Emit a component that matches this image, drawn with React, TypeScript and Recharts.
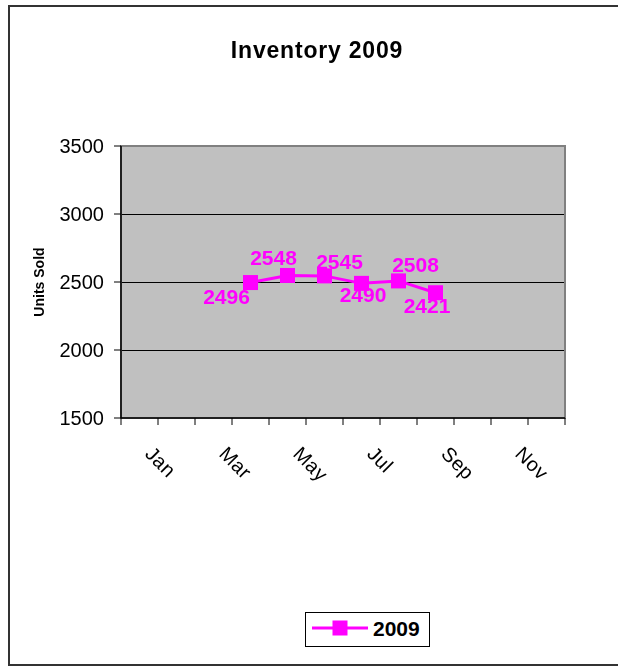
import React from 'react';
import {
  LineChart,
  Line,
  XAxis,
  YAxis,
  CartesianGrid,
  ReferenceArea,
  LabelList,
  Customized,
} from 'recharts';

// ---- data ----
const MONTHS = ['Jan', 'Feb', 'Mar', 'Apr', 'May', 'Jun', 'Jul', 'Aug', 'Sep', 'Oct', 'Nov', 'Dec'];
const UNITS_2009: (number | null)[] = [null, null, null, 2496, 2548, 2545, 2490, 2508, 2421, null, null, null];
const Y_TICKS = [1500, 2000, 2500, 3000, 3500];
const SERIES_NAME = '2009';
const TITLE = 'Inventory 2009';
const Y_TITLE = 'Units Sold';

// ---- label placement (style, per month) ----
const LABEL_OFFSETS: Record<string, [number, number]> = {
  Apr: [-24, 13.5],
  May: [-14, -18],
  Jun: [15, -14.5],
  Jul: [1.5, 11.5],
  Aug: [17, -16],
  Sep: [-8.5, 13],
};

const MAGENTA = '#FF00FF';
const FONT = 'Arial, "Liberation Sans", Helvetica, sans-serif';

const data = MONTHS.map((m, i) => ({ month: m, units: UNITS_2009[i] }));

const XTick = (props: any) => {
  const { x, y, payload, index, width } = props;
  const half =
    payload && typeof payload.offset === 'number' && payload.offset > 0
      ? payload.offset
      : (width || 444) / MONTHS.length / 2;
  const isLast = index === MONTHS.length - 1;
  const showLabel = index % 2 === 0;
  const lx = x + 4.5;
  const ly = y + 37;
  return (
    <g>
      <line x1={x - half} x2={x - half} y1={y} y2={y + 7} stroke="#000" strokeWidth={1} />
      {isLast && <line x1={x + half} x2={x + half} y1={y} y2={y + 7} stroke="#000" strokeWidth={1} />}
      {showLabel && (
        <text
          x={lx}
          y={ly}
          transform={`rotate(45, ${lx}, ${ly})`}
          textAnchor="start"
          fontSize={20}
          letterSpacing={0.4}
          fill="#000"
        >
          {payload.value}
        </text>
      )}
    </g>
  );
};

const SquareDot = (props: any) => {
  const { cx, cy, index } = props;
  if (cx == null || cy == null || props.value == null) return <g key={`d${index}`} />;
  return <rect key={`d${index}`} x={cx - 7.5} y={cy - 7.5} width={15} height={15} fill={MAGENTA} />;
};

const ValueLabel = (props: any) => {
  const { x, y, value, index } = props;
  if (value == null || x == null || y == null) return null;
  const month = MONTHS[index];
  const off = LABEL_OFFSETS[month] || [0, -16];
  return (
    <text
      x={x + off[0]}
      y={y + off[1] + 7.5}
      textAnchor="middle"
      fontSize={21}
      fontWeight="bold"
      fill={MAGENTA}
    >
      {value}
    </text>
  );
};

const Decorations = () => (
  <g>
    <path d="M700,1 H1 V660 H700" fill="none" stroke="#333" strokeWidth={2} />
    <text x={309} y={53} textAnchor="middle" fontSize={23} fontWeight="bold" letterSpacing={0.8} fill="#000">
      {TITLE}
    </text>
    <text
      x={36}
      y={277}
      textAnchor="middle"
      fontSize={14}
      fontWeight="bold"
      fill="#000"
      transform="rotate(-90, 36, 277)"
    >
      {Y_TITLE}
    </text>
    <rect x={297.5} y={607.5} width={124} height={34} fill="#fff" stroke="#000" strokeWidth={1} />
    <line x1={304} x2={360} y1={623} y2={623} stroke={MAGENTA} strokeWidth={3} />
    <rect x={324.5} y={615.5} width={15} height={15} fill={MAGENTA} />
    <text x={365} y={631} fontSize={21} fontWeight="bold" fill="#000">
      {SERIES_NAME}
    </text>
  </g>
);

export default function App() {
  return (
    <div style={{ position: 'fixed', left: 8, top: 5, fontFamily: FONT }}>
      <LineChart
        width={612}
        height={662}
        data={data}
        margin={{ top: 141, right: 55, left: 53, bottom: 189 }}
      >
        <CartesianGrid
          vertical={false}
          stroke="#000"
          fill="#C0C0C0"
          fillOpacity={1}
          shapeRendering="crispEdges"
        />
        <ReferenceArea
          x1={MONTHS[0]}
          x2={MONTHS[MONTHS.length - 1]}
          y1={1500}
          y2={3500}
          fill="none"
          fillOpacity={0}
          stroke="#808080"
          strokeWidth={2}
          ifOverflow="visible"
        />
        <XAxis
          dataKey="month"
          scale="band"
          interval={0}
          tickLine={false}
          tickSize={0}
          tickMargin={0}
          axisLine={{ stroke: '#000', strokeWidth: 1.5 }}
          height={60}
          tick={<XTick />}
        />
        <YAxis
          type="number"
          domain={[1500, 3500]}
          ticks={Y_TICKS}
          interval={0}
          width={60}
          tickSize={7}
          tickMargin={10}
          axisLine={{ stroke: '#000', strokeWidth: 1.5 }}
          tickLine={{ stroke: '#000' }}
          tick={{ fontSize: 20, fill: '#000' }}
          allowDataOverflow
        />
        <Line
          type="linear"
          dataKey="units"
          name={SERIES_NAME}
          stroke={MAGENTA}
          strokeWidth={3}
          dot={<SquareDot />}
          activeDot={false}
          isAnimationActive={false}
        >
          <LabelList dataKey="units" content={<ValueLabel />} />
        </Line>
        <Customized component={Decorations} />
      </LineChart>
    </div>
  );
}
